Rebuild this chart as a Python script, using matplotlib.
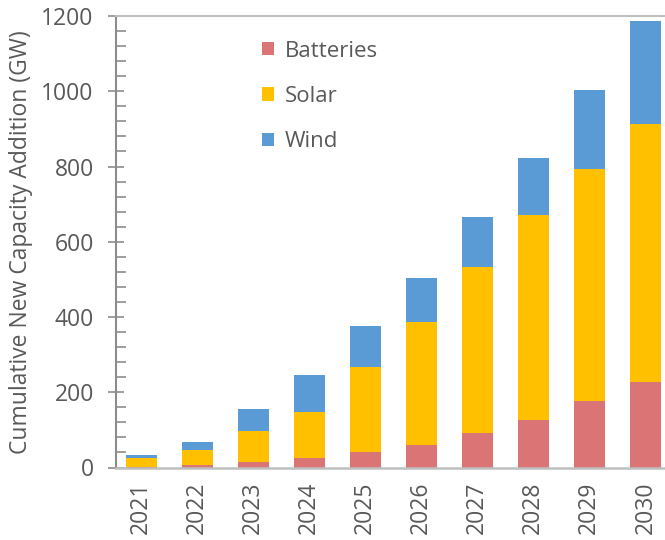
import matplotlib
matplotlib.use("Agg")
import matplotlib.pyplot as plt
import numpy as np
from matplotlib.ticker import MultipleLocator

years = ["2021", "2022", "2023", "2024", "2025", "2026", "2027", "2028", "2029", "2030"]
batteries = [2, 6, 15, 24, 40, 60, 93, 125, 177, 227]
solar = [22, 40, 82, 123, 227, 328, 439, 546, 616, 686]
wind = [9, 21, 59, 100, 108, 115, 133, 151, 210, 273]

series_names = ["Batteries", "Solar", "Wind"]
colors = ["#DB7474", "#FFC000", "#5B9BD5"]
text_color = "#595959"
axis_color = "#8C8C8C"

plt.rcParams['font.family'] = ['Open Sans', 'DejaVu Sans']

fig = plt.figure(figsize=(6.65, 5.4), dpi=100)
ax = fig.add_axes([116/665, 1 - 467.5/540, (665-116)/665, (467.5-16)/540])

x = np.arange(len(years))
w = 0.55
ax.bar(x, batteries, w, color=colors[0], label=series_names[0])
bottom2 = np.array(batteries)
ax.bar(x, solar, w, bottom=bottom2, color=colors[1], label=series_names[1])
bottom3 = bottom2 + np.array(solar)
ax.bar(x, wind, w, bottom=bottom3, color=colors[2], label=series_names[2])

ax.set_xlim(-0.45, 9.35)
ax.set_ylim(0, 1200)
ax.set_xticks(x)
ax.set_xticklabels(years, rotation=90, color=text_color, fontsize=16.5)
ax.tick_params(axis='x', length=0, pad=10)
ax.yaxis.set_major_locator(MultipleLocator(200))
ax.yaxis.set_minor_locator(MultipleLocator(40))
ax.tick_params(axis='y', which='major', direction='inout', length=12, width=1.2,
               color=axis_color, labelcolor=text_color, labelsize=16.5, pad=10)
ax.tick_params(axis='y', which='minor', direction='in', length=7, width=1.2, color=axis_color)

ax.spines['right'].set_visible(False)
ax.spines['left'].set_color(axis_color)
ax.spines['left'].set_linewidth(1.5)
ax.spines['top'].set_color("#BFBFBF")
ax.spines['top'].set_linewidth(1.5)
ax.spines['bottom'].set_color("#BFBFBF")
ax.spines['bottom'].set_linewidth(1.8)

ax.set_ylabel("Cumulative New Capacity Addition (GW)", color=text_color, fontsize=16.5, labelpad=6)

leg = ax.legend(loc='upper left', bbox_to_anchor=(0.23, 0.99), frameon=False,
                fontsize=16, labelcolor=text_color, handlelength=0.55, handleheight=0.55,
                labelspacing=1.1, handletextpad=0.45)

fig.savefig("out.png", dpi=100)
